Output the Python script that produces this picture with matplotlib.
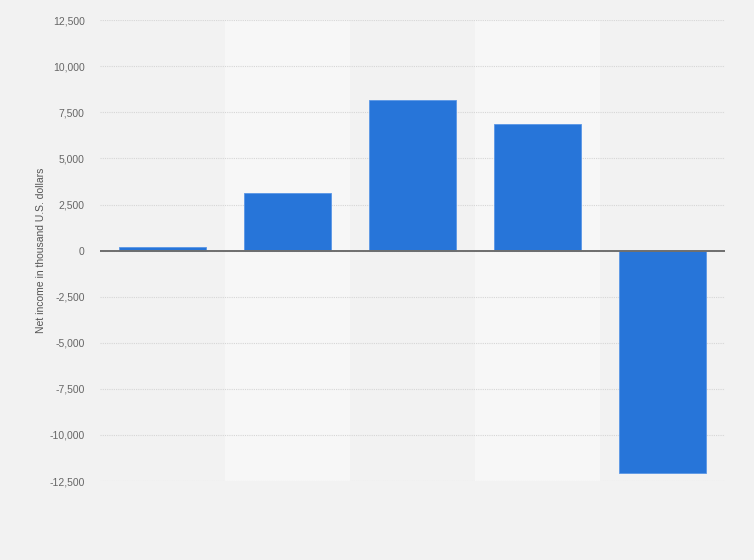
import matplotlib.pyplot as plt
import numpy as np

# values (thousand U.S. dollars)
categories = ['2015', '2016', '2017', '2018', '2019']
net_income = [185, 3120, 8175, 6885, -12040]
yticks = [-12500, -10000, -7500, -5000, -2500, 0, 2500, 5000, 7500, 10000, 12500]

plt.rcParams['font.family'] = ['Liberation Sans', 'DejaVu Sans']

fig = plt.figure(figsize=(7.54, 5.60), dpi=100, facecolor='#f2f2f2')
ax = fig.add_axes([0.1326, 0.141, 0.8289, 0.823])
ax.set_facecolor('#f2f2f2')

x = np.arange(len(categories))

# alternating lighter column bands
for i in x:
    if i % 2 == 1:
        ax.axvspan(i - 0.5, i + 0.5, color='#f7f7f7', zorder=0, lw=0)

ax.bar(x, net_income, width=0.69, color='#2775d9', edgecolor='#5a97e6',
       linewidth=0.6, zorder=3)

ax.axhline(0, color='#6e6e6e', lw=1.4, zorder=4)

ax.set_xlim(-0.5, len(categories) - 0.5)
ax.set_ylim(-12500, 12500)
ax.set_yticks(yticks)
ax.set_yticklabels([f'{v:,}' for v in yticks])
ax.set_xticks([])
ax.yaxis.grid(True, color='#d6d6d6', linestyle=(0, (1, 1)), lw=0.8, zorder=1)
ax.tick_params(axis='y', length=0, pad=11, labelsize=7.5, labelcolor='#666666')

for s in ax.spines.values():
    s.set_visible(False)

ax.set_ylabel('Net income in thousand U.S. dollars', fontsize=7.5, color='#555555')
ax.yaxis.set_label_coords(-0.086, 0.5)

fig.savefig('out.png', dpi=100, facecolor=fig.get_facecolor())
